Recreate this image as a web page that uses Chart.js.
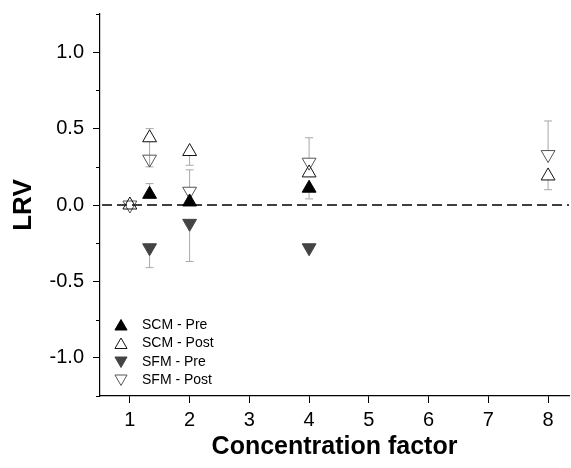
<!DOCTYPE html>
<html lang="en">
<head>
<meta charset="UTF-8">
<title>LRV vs concentration factor</title>
<script src="https://cdn.jsdelivr.net/npm/chart.js"></script>
<style>
    body { margin: 0; padding: 0; background: #fff; }
    canvas { display: block; }
</style>
</head>
<body>
<canvas id="lrvChart" width="571" height="468"></canvas>
<script>
    // tick positions
    const xTicks = [1, 2, 3, 4, 5, 6, 7, 8];
    const yTicks = [-1.0, -0.5, 0.0, 0.5, 1.0];
    const yMinorTicks = [-1.25, -0.75, -0.25, 0.25, 0.75, 1.25];

    // SCM - Pre
    const scmPreX = [1.33, 2, 4];
    const scmPreY = [0.07, 0.02, 0.11];
    const scmPreErrUp = [0.07, 0, 0];
    const scmPreErrDown = [0, 0, 0.07];

    // SCM - Post
    const scmPostX = [1, 1.33, 2, 4, 8];
    const scmPostY = [0.0, 0.44, 0.35, 0.21, 0.19];
    const scmPostErrUp = [0, 0.06, 0, 0, 0];
    const scmPostErrDown = [0, 0.19, 0.09, 0, 0.09];

    // SFM - Pre
    const sfmPreX = [1.33, 2, 4];
    const sfmPreY = [-0.28, -0.12, -0.28];
    const sfmPreErrUp = [0, 0, 0];
    const sfmPreErrDown = [0.13, 0.25, 0];

    // SFM - Post
    const sfmPostX = [1, 1.33, 2, 4, 8];
    const sfmPostY = [0.0, 0.30, 0.09, 0.28, 0.33];
    const sfmPostErrUp = [0, 0, 0.14, 0.16, 0.22];
    const sfmPostErrDown = [0, 0, 0, 0, 0];

    const FONT = '"Liberation Sans", Arial, sans-serif';
    const R = 8;

    function pts(xs, ys) {
        return xs.map((x, i) => ({ x: x, y: ys[i] }));
    }

    function makeSet(label, xs, ys, up, down, fill, stroke, rotation, order) {
        return {
            label: label,
            data: pts(xs, ys),
            errUp: up,
            errDown: down,
            pointStyle: 'triangle',
            rotation: rotation,
            pointRadius: R,
            pointHoverRadius: R,
            backgroundColor: fill,
            borderColor: stroke,
            pointBorderWidth: 1,
            showLine: false,
            order: order
        };
    }

    const datasets = [
        makeSet('SCM - Pre', scmPreX, scmPreY, scmPreErrUp, scmPreErrDown, '#000', '#000', 0, 1),
        makeSet('SCM - Post', scmPostX, scmPostY, scmPostErrUp, scmPostErrDown, 'rgba(0,0,0,0)', '#111', 0, 3),
        makeSet('SFM - Pre', sfmPreX, sfmPreY, sfmPreErrUp, sfmPreErrDown, '#444', '#444', 180, 2),
        makeSet('SFM - Post', sfmPostX, sfmPostY, sfmPostErrUp, sfmPostErrDown, 'rgba(0,0,0,0)', '#555', 180, 4)
    ];

    // zero line + error bars under the markers, minor ticks and legend on top
    const extras = {
        id: 'extras',
        beforeDatasetsDraw(chart) {
            const ctx = chart.ctx, xs = chart.scales.x, ys = chart.scales.y;
            const area = chart.chartArea;
            ctx.save();
            ctx.strokeStyle = '#000';
            ctx.lineWidth = 1.5;
            ctx.setLineDash([10, 5]);
            const y0 = ys.getPixelForValue(0);
            ctx.beginPath();
            ctx.moveTo(area.left + 2, y0);
            ctx.lineTo(area.right, y0);
            ctx.stroke();
            ctx.setLineDash([]);

            ctx.strokeStyle = '#a8a8a8';
            ctx.lineWidth = 1;
            chart.data.datasets.forEach(ds => {
                const down = ds.rotation === 180;
                ds.data.forEach((p, i) => {
                    const px = xs.getPixelForValue(p.x);
                    const py = ys.getPixelForValue(p.y);
                    const bars = [];
                    if (ds.errUp[i] > 0) bars.push([p.y + ds.errUp[i], -(down ? R / 2 : R)]);
                    if (ds.errDown[i] > 0) bars.push([p.y - ds.errDown[i], down ? R : R / 2]);
                    bars.forEach(b => {
                        const ey = ys.getPixelForValue(b[0]);
                        ctx.beginPath();
                        ctx.moveTo(px, py + b[1]);
                        ctx.lineTo(px, ey);
                        ctx.moveTo(px - 4, ey);
                        ctx.lineTo(px + 4, ey);
                        ctx.stroke();
                    });
                });
            });
            ctx.restore();
        },
        afterDraw(chart) {
            const ctx = chart.ctx, ys = chart.scales.y;
            const area = chart.chartArea;
            ctx.save();
            ctx.strokeStyle = '#000';
            ctx.lineWidth = 1;
            yMinorTicks.forEach(v => {
                const y = Math.round(ys.getPixelForValue(v)) + 0.5;
                ctx.beginPath();
                ctx.moveTo(area.left - 4, y);
                ctx.lineTo(area.left, y);
                ctx.stroke();
            });
            const rowY = [325, 343.5, 362, 380];
            ctx.font = '14px ' + FONT;
            ctx.textBaseline = 'middle';
            chart.data.datasets.forEach((ds, i) => {
                const offs = ds.rotation === 180 ? -1.5 : 1.5;
                ctx.fillStyle = ds.backgroundColor;
                ctx.strokeStyle = ds.borderColor;
                ctx.lineWidth = 1;
                Chart.helpers.drawPoint(ctx, {
                    pointStyle: 'triangle',
                    rotation: ds.rotation,
                    radius: 7,
                    borderWidth: 1
                }, 121, rowY[i] + offs);
                ctx.fillStyle = '#000';
                ctx.fillText(ds.label, 142, rowY[i]);
            });
            ctx.restore();
        }
    };

    new Chart(document.getElementById('lrvChart'), {
        type: 'scatter',
        data: { datasets: datasets },
        plugins: [extras],
        options: {
            responsive: false,
            animation: false,
            layout: { autoPadding: false, padding: { top: 14, right: 2, left: 0, bottom: 0 } },
            plugins: {
                legend: { display: false },
                tooltip: { enabled: false }
            },
            scales: {
                x: {
                    type: 'linear',
                    min: 0.5,
                    max: 8.35,
                    afterBuildTicks: s => { s.ticks = xTicks.map(v => ({ value: v })); },
                    afterFit: s => { s.height = 72; s.paddingLeft = 0; s.paddingRight = 0; },
                    border: { color: '#000', width: 1.2 },
                    grid: { drawOnChartArea: false, drawTicks: true, tickLength: 7, color: '#000' },
                    ticks: {
                        color: '#000',
                        padding: 5,
                        font: { family: FONT, size: 20 },
                        callback: v => String(v)
                    },
                    title: {
                        display: true,
                        text: 'Concentration factor',
                        color: '#000',
                        font: { family: FONT, size: 25, weight: 'bold' },
                        padding: { top: 0, bottom: 6 }
                    }
                },
                y: {
                    type: 'linear',
                    min: -1.25,
                    max: 1.25,
                    afterBuildTicks: s => { s.ticks = yTicks.map(v => ({ value: v })); },
                    afterFit: s => { s.width = 100; s.paddingTop = 0; s.paddingBottom = 0; },
                    border: { color: '#000', width: 1.2 },
                    grid: { drawOnChartArea: false, drawTicks: true, tickLength: 7, color: '#000' },
                    ticks: {
                        color: '#000',
                        padding: 9,
                        font: { family: FONT, size: 20 },
                        callback: v => Number(v).toFixed(1)
                    },
                    title: {
                        display: true,
                        text: 'LRV',
                        color: '#000',
                        font: { family: FONT, size: 26, weight: 'bold' },
                        padding: { top: 8, bottom: 0 }
                    }
                }
            }
        }
    });
</script>
</body>
</html>
